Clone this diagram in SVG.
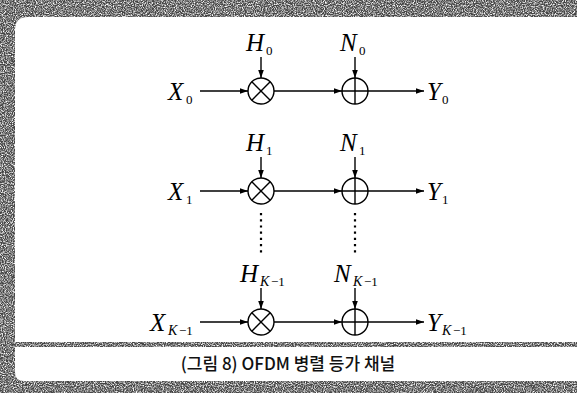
<svg xmlns="http://www.w3.org/2000/svg" width="577" height="393" viewBox="0 0 577 393">
<defs>
<filter id="noise" x="0" y="0" width="100%" height="100%">
<feTurbulence type="fractalNoise" baseFrequency="0.9" numOctaves="2" seed="3" result="t"/>
<feColorMatrix in="t" type="matrix" values="0 0 0 0 0  0 0 0 0 0  0 0 0 0 0  0 0 0 -2.4 1.9" result="a"/>
<feComposite in="SourceGraphic" in2="a" operator="in"/>
</filter>
<marker id="ah" viewBox="0 0 10 10" refX="10" refY="5" markerWidth="8" markerHeight="8" markerUnits="userSpaceOnUse" orient="auto">
<path d="M0,1.5 L10,5 L0,8.5 z" fill="#000"/>
</marker>
</defs>
<style>
.v{font-family:"Liberation Serif","Times New Roman",serif;font-style:italic;font-size:25px;fill:#000}
.s{font-family:"Liberation Serif","Times New Roman",serif;font-size:13px;fill:#000}
.si{font-family:"Liberation Serif","Times New Roman",serif;font-style:italic;font-size:14px;fill:#000}
.ln{stroke:#000;stroke-width:1.4;fill:none}
.c{stroke:#000;stroke-width:1.4;fill:#fff}
.dot{stroke:#000;stroke-width:2.2;stroke-dasharray:2.2 4;fill:none}
.cap{font-family:"Noto Sans CJK KR","Noto Sans",sans-serif;font-size:17px;font-weight:500;fill:#111}
.band{fill:#444}
</style>
<rect width="577" height="393" fill="#fff"/>
<g id="frame" filter="url(#noise)">
<path class="band" d="M0,0 H577 V17 H28 Q15,17 15,30 V372 Q15,381 24,381 H577 V393 H0 Z"/>
<rect class="band" x="15" y="342" width="562" height="5"/>
</g>
<g id="connectors">
<line class="ln" x1="200" y1="91" x2="248" y2="91" marker-end="url(#ah)"/>
<line class="ln" x1="274" y1="91" x2="342" y2="91" marker-end="url(#ah)"/>
<line class="ln" x1="368" y1="91" x2="424" y2="91" marker-end="url(#ah)"/>
<line class="ln" x1="261" y1="57" x2="261" y2="78" marker-end="url(#ah)"/>
<line class="ln" x1="355" y1="57" x2="355" y2="78" marker-end="url(#ah)"/>
<line class="ln" x1="200" y1="191" x2="248" y2="191" marker-end="url(#ah)"/>
<line class="ln" x1="274" y1="191" x2="342" y2="191" marker-end="url(#ah)"/>
<line class="ln" x1="368" y1="191" x2="424" y2="191" marker-end="url(#ah)"/>
<line class="ln" x1="261" y1="157" x2="261" y2="178" marker-end="url(#ah)"/>
<line class="ln" x1="355" y1="157" x2="355" y2="178" marker-end="url(#ah)"/>
<line class="ln" x1="200" y1="322" x2="248" y2="322" marker-end="url(#ah)"/>
<line class="ln" x1="274" y1="322" x2="342" y2="322" marker-end="url(#ah)"/>
<line class="ln" x1="368" y1="322" x2="424" y2="322" marker-end="url(#ah)"/>
<line class="ln" x1="261" y1="288" x2="261" y2="309" marker-end="url(#ah)"/>
<line class="ln" x1="355" y1="288" x2="355" y2="309" marker-end="url(#ah)"/>
<line class="dot" x1="261" y1="213" x2="261" y2="254"/>
<line class="dot" x1="355" y1="213" x2="355" y2="254"/>
</g>
<g id="mul0"><circle class="c" cx="261" cy="91" r="13"/><path class="ln" d="M251.8,81.8 L270.2,100.2 M270.2,81.8 L251.8,100.2"/></g>
<g id="add0"><circle class="c" cx="355" cy="91" r="13"/><path class="ln" d="M342,91 H368 M355,78 V104"/></g>
<g id="mul1"><circle class="c" cx="261" cy="191" r="13"/><path class="ln" d="M251.8,181.8 L270.2,200.2 M270.2,181.8 L251.8,200.2"/></g>
<g id="add1"><circle class="c" cx="355" cy="191" r="13"/><path class="ln" d="M342,191 H368 M355,178 V204"/></g>
<g id="mulK"><circle class="c" cx="261" cy="322" r="13"/><path class="ln" d="M251.8,312.8 L270.2,331.2 M270.2,312.8 L251.8,331.2"/></g>
<g id="addK"><circle class="c" cx="355" cy="322" r="13"/><path class="ln" d="M342,322 H368 M355,309 V335"/></g>
<g id="labels">
<text class="v" x="168" y="100">X</text><text class="s" x="186" y="104">0</text>
<text class="v" x="246" y="51">H</text><text class="s" x="266" y="55">0</text>
<text class="v" x="340" y="51">N</text><text class="s" x="359" y="55">0</text>
<text class="v" x="427" y="100">Y</text><text class="s" x="442" y="104">0</text>
<text class="v" x="168" y="200">X</text><text class="s" x="186" y="204">1</text>
<text class="v" x="246" y="151">H</text><text class="s" x="266" y="155">1</text>
<text class="v" x="340" y="151">N</text><text class="s" x="359" y="155">1</text>
<text class="v" x="427" y="200">Y</text><text class="s" x="442" y="204">1</text>
<text class="v" x="150" y="331">X</text><text class="si" x="168" y="335">K</text><text class="s" x="179" y="335">−1</text>
<text class="v" x="240" y="282">H</text><text class="si" x="260" y="286">K</text><text class="s" x="271" y="286">−1</text>
<text class="v" x="334" y="282">N</text><text class="si" x="353" y="286">K</text><text class="s" x="364" y="286">−1</text>
<text class="v" x="427" y="331">Y</text><text class="si" x="442" y="335">K</text><text class="s" x="453" y="335">−1</text>
</g>
<text class="cap" x="288" y="370" text-anchor="middle">(그림 8) OFDM 병렬 등가 채널</text>
</svg>
